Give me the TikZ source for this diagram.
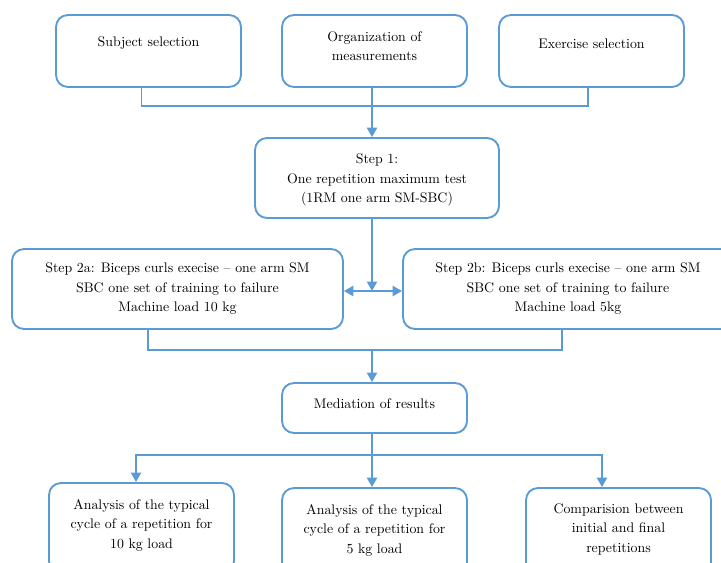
\documentclass[tikz,border=0pt]{standalone}
\usetikzlibrary{arrows.meta,calc}
\definecolor{lineblue}{HTML}{5B9BD5}
\begin{document}
\begin{tikzpicture}[x=0.75pt,y=-0.75pt,
  box/.style={draw=lineblue, line width=1.4pt, rounded corners=9pt, inner sep=0pt},
  txt/.style={align=center, font=\fontsize{10.4}{14.6}\selectfont, text=black, inner sep=0pt},
  conn/.style={draw=lineblue, line width=1.4pt},
  arr/.style={conn, -{Triangle[length=7pt,width=7.5pt]}},
  dblarr/.style={conn, {Triangle[length=7pt,width=7.5pt]}-{Triangle[length=7pt,width=7.5pt]}}]
\useasboundingbox (0,0) rectangle (721,563);
\clip (0,0) rectangle (721,563);
\fill[white] (0,0) rectangle (721,563);
% top row
\node[box, minimum width=138.75pt, minimum height=54pt] (subj) at (148.5,51) {};
\node[txt] (subjt) at (148.5,43) {Subject selection};
\node[box, minimum width=138.75pt, minimum height=54pt] (org) at (374.5,51) {};
\node[txt] (orgt) at (374.5,46) {Organization of\\measurements};
\node[box, minimum width=138.75pt, minimum height=54pt] (exer) at (591.5,51) {};
\node[txt] (exert) at (591.5,44) {Exercise selection};
% step 1
\node[box, minimum width=183pt, minimum height=60pt] (step1) at (377,178) {};
\node[txt] (step1t) at (377,180) {Step 1:\\One repetition maximum test\\(1RM one arm SM-SBC)};
% step 2
\node[box, txt, minimum width=248.25pt, minimum height=60pt] (s2a) at (177.5,289)
  {Step 2a: Biceps curls execise -- one arm SM\\SBC one set of training to failure\\Machine load 10 kg};
\node[box, txt, minimum width=247.5pt, minimum height=60pt] (s2b) at (568,289)
  {Step 2b: Biceps curls execise -- one arm SM\\SBC one set of training to failure\\Machine load 5kg};
% mediation
\node[box, minimum width=138.75pt, minimum height=37.5pt] (med) at (374.5,408) {};
\node[txt] (medt) at (374.5,404) {Mediation of results};
% results
\node[box, minimum width=138.75pt, minimum height=67.5pt] (r1) at (141.5,528) {};
\node[txt] (r1t) at (141.5,525) {Analysis of the typical\\cycle of a repetition for\\10 kg load};
\node[box, minimum width=138.75pt, minimum height=67.5pt] (r2) at (374.5,533) {};
\node[txt] (r2t) at (374.5,530) {Analysis of the typical\\cycle of a repetition for\\5 kg load};
\node[box, minimum width=138.75pt, minimum height=67.5pt] (r3) at (618.5,533) {};
\node[txt] (r3t) at (618.5,529) {Comparision between\\initial and final\\repetitions};
% connectors
\coordinate (j1) at (372,106);
\draw[conn] ($(subj.south)+(-7,0)$) |- (j1);
\draw[conn] ($(exer.south)+(-3.5,0)$) |- (j1);
\draw[arr] (org.south -| j1) -- (step1.north -| j1);
\coordinate (j2) at (372,291);
\draw[arr] (step1.south -| j2) -- (j2);
\draw[dblarr] (j2 -| s2a.east) -- (j2 -| s2b.west);
\coordinate (j3) at (372,350);
\draw[conn] ($(s2a.south)+(-29.5,0)$) |- (j3);
\draw[conn] ($(s2b.south)+(-6,0)$) |- (j3);
\draw[arr] (j3) -- (med.north -| j3);
\coordinate (j4) at (372,455);
\draw[arr] (med.south -| j4) -- (r2.north -| j4);
\draw[arr] (j4) -| ($(r1.north)+(-5.5,0)$);
\draw[arr] (j4) -| ($(r3.north)+(-16.5,0)$);
\end{tikzpicture}
\end{document}
